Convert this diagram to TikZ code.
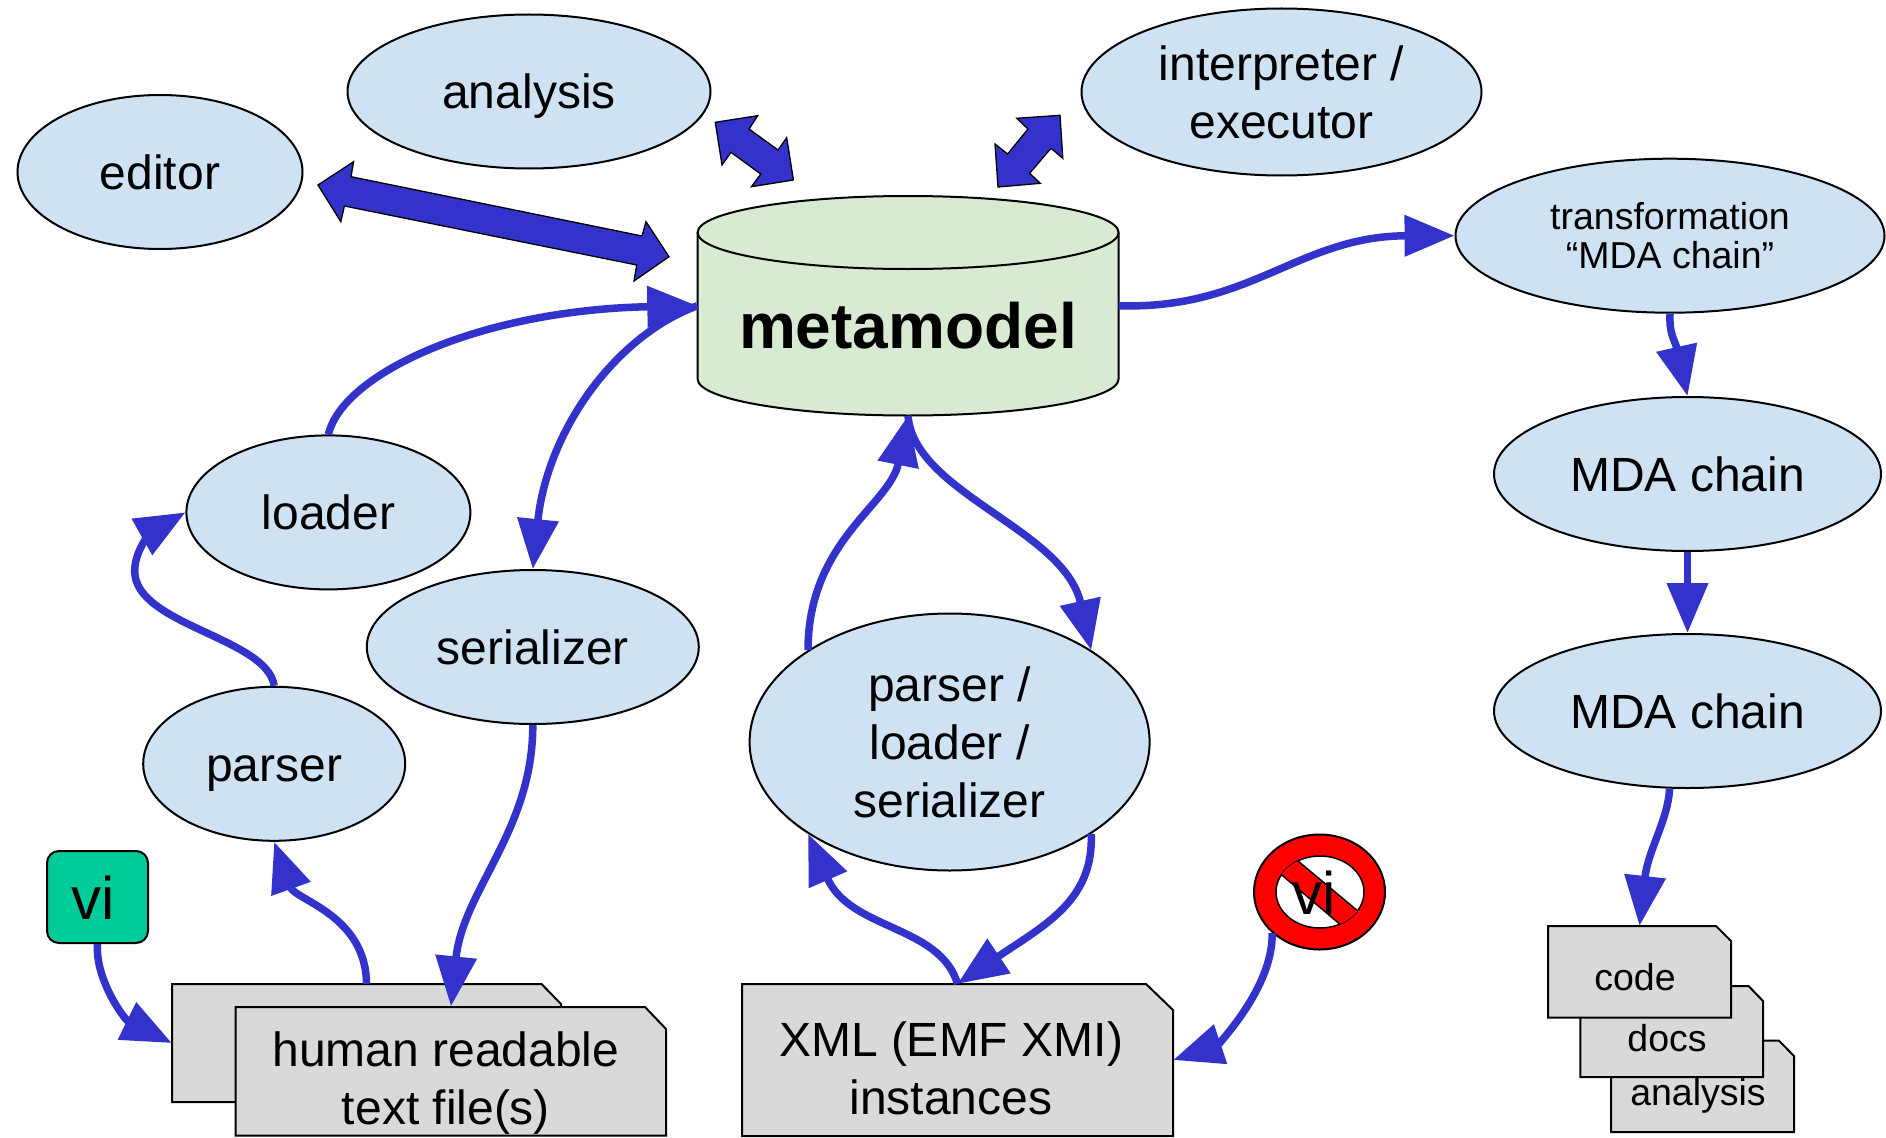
\documentclass[tikz,border=0pt]{standalone}
\usepackage{fontspec}
\setmainfont{Liberation Sans}
\usetikzlibrary{arrows.meta,shapes.geometric}
\definecolor{flowblue}{HTML}{3333CC}
\definecolor{bubble}{HTML}{CFE2F3}
\definecolor{cylfill}{HTML}{D9EAD3}
\definecolor{docfill}{HTML}{D9D9D9}
\definecolor{vigreen}{HTML}{00CC99}
\newcommand{\bigtxt}{\fontsize{48}{58}\selectfont}
\newcommand{\smalltxt}{\fontsize{37.5}{39}\selectfont}
\tikzset{
  bubblenode/.style={ellipse,draw=black,fill=bubble,line width=2pt,inner sep=0pt,align=center,font=\bigtxt},
  flow/.style={draw=flowblue,line width=7.5pt,-{Triangle[length=50pt,width=40pt]}},
  fatarrow/.style={draw=black,fill=flowblue,line width=1.3pt,line join=miter},
  docshape/.style={draw=black,fill=docfill,line width=2pt,line join=miter},
  docanchor/.style={rectangle,inner sep=0pt},
  doctext/.style={align=center,inner sep=0pt,font=\bigtxt},
  docsmall/.style={align=center,inner sep=0pt,font=\smalltxt},
  cylshape/.style={draw=black,fill=cylfill,line width=2pt},
}
\begin{document}
\begin{tikzpicture}[x=1pt,y=-1pt]
\useasboundingbox (0,0) rectangle (1886,1137);
\fill[white] (0,0) rectangle (1886,1137);

% bubbles
\node[bubblenode,minimum width=285pt,minimum height=154pt] (editor) at (160,172) {editor};
\node[bubblenode,minimum width=363pt,minimum height=154pt] (analysis) at (529,91.5) {\rule{0pt}{35pt}\smash{analysis}};
\node[bubblenode,minimum width=400pt,minimum height=167pt] (interp) at (1281.5,92) {interpreter /\\executor};
\node[bubblenode,minimum width=429pt,minimum height=154pt,font=\smalltxt] (transf) at (1670,235.7) {transformation\\“MDA chain”};
\node[bubblenode,minimum width=387pt,minimum height=154pt] (mdaA) at (1687.5,474) {MDA chain};
\node[bubblenode,minimum width=387pt,minimum height=154pt] (mdaB) at (1687.5,711) {MDA chain};
\node[bubblenode,minimum width=284pt,minimum height=154pt] (loader) at (328.4,512.4) {loader};
\node[bubblenode,minimum width=332pt,minimum height=154pt] (serial) at (532.8,647) {serializer};
\node[bubblenode,minimum width=262pt,minimum height=154pt] (parser) at (274.2,763.8) {\rule{0pt}{35pt}\smash{parser}};
\node[bubblenode,minimum width=400pt,minimum height=257pt] (pls) at (949.6,742) {parser /\\loader /\\serializer};

% metamodel cylinder
\draw[cylshape] (697.6,232.5) -- (697.6,379)
  .. controls (697.6,399.2) and (791.7,415.5) .. (908,415.5)
  .. controls (1024.3,415.5) and (1118.6,399.2) .. (1118.6,379)
  -- (1118.6,232.5)
  .. controls (1118.6,212.3) and (1024.3,196) .. (908,196)
  .. controls (791.7,196) and (697.6,212.3) .. (697.6,232.5) -- cycle;
\draw[cylshape,fill=none] (697.6,232.5)
  .. controls (697.6,252.7) and (791.7,269) .. (908,269)
  .. controls (1024.3,269) and (1118.6,252.7) .. (1118.6,232.5);
\node[rectangle,inner sep=0pt,minimum width=421pt,minimum height=219.5pt] (meta) at (908,305.75) {};
\node[inner sep=0pt,font=\fontsize{64}{70}\selectfont\bfseries] (metatext) at (908,326) {metamodel};

% documents
\draw[docshape] (172,984) -- (541.5,984) -- (561,1004) -- (561,1102) -- (172,1102) -- cycle;
\node[docanchor,minimum width=389pt,minimum height=118pt] (fileA) at (366.5,1043) {};
\draw[docshape] (235.7,1007) -- (645,1007) -- (666,1029) -- (666,1135.7) -- (235.7,1135.7) -- cycle;
\node[docanchor,minimum width=430pt,minimum height=129pt] (fileB) at (451,1071) {};
\node[doctext] (fileBtext) at (446,1083) {human readable\\text file(s)};

\draw[docshape] (742,984) -- (1146,984) -- (1173,1010) -- (1173,1136) -- (742,1136) -- cycle;
\node[docanchor,minimum width=431pt,minimum height=152pt] (xml) at (957.5,1060) {};
\node[doctext] (xmltext) at (951,1068) {XML (EMF XMI)\\instances};

\draw[docshape] (1611,1040.7) -- (1779,1040.7) -- (1794,1056) -- (1794,1132) -- (1611,1132) -- cycle;
\node[docsmall] (analysisdoc) at (1698,1096) {analysis};
\draw[docshape] (1580.4,986) -- (1748.5,986) -- (1763,1001) -- (1763,1077) -- (1580.4,1077) -- cycle;
\node[docsmall] (docsdoc) at (1667,1038) {docs};
\draw[docshape] (1548,926) -- (1716,926) -- (1731,941) -- (1731,1017.7) -- (1548,1017.7) -- cycle;
\node[docanchor,minimum width=183pt,minimum height=92pt] (code) at (1639.5,972) {};
\node[docsmall] (codedoc) at (1635,977) {code};

% vi box
\node[draw=black,fill=vigreen,line width=2pt,rounded corners=12pt,minimum width=101pt,minimum height=92pt,inner sep=0pt] (vi) at (97.5,897) {};
\node[inner sep=0pt,font=\fontsize{60}{62}\selectfont] (vitext) at (93,898) {vi};

% no-vi sign
\node[ellipse,draw=black,fill=red,line width=2pt,minimum width=131pt,minimum height=115pt,inner sep=0pt] (novi) at (1319.5,892) {};
\node[ellipse,draw=black,fill=white,line width=1.5pt,minimum width=88pt,minimum height=72pt,inner sep=0pt] (noviin) at (1320,892) {};
\begin{scope}
  \clip (1320,892) ellipse [x radius=44,y radius=36];
  \draw[draw=black,fill=red,line width=1.5pt] (1239.4,812) -- (1415.2,959) -- (1398.6,974) -- (1222.8,825) -- cycle;
\end{scope}
\node[inner sep=0pt,font=\fontsize{60}{62}\selectfont] (novitext) at (1314,892.5) {vi};

% curved connectors
\draw[flow] (loader.north) .. controls (343,373) and (481,310) .. (meta.west);
\draw[flow] (meta.west) .. controls (613,337) and (547,433) .. (serial.north);
\draw[flow] (parser.north) .. controls (267,637.5) and (134.7,625) .. (134.7,571) .. controls (134.7,547) and (156,529) .. (loader.west);
\draw[flow] (serial.south) .. controls (533,830) and (463,890) .. (fileB.north);
\draw[flow] (fileA.north) .. controls (366,915) and (295,900) .. (parser.south);
\draw[flow] (vi.south) .. controls (95,980) and (125,1020) .. (fileA.west);
\draw[flow] (meta.east) .. controls (1251,310) and (1299,236) .. (transf.west);
\draw[flow] (transf.south) .. controls (1669,335) and (1675,340) .. (mdaA.north);
\draw[flow] (mdaA.south) -- (mdaB.north);
\draw[flow] (mdaB.257) .. controls (1668,820) and (1648,850) .. (code.north);
\draw[flow] (pls.147) .. controls (808,541) and (890,505) .. (meta.south);
\draw[flow] (meta.south) .. controls (914,493) and (1064,529) .. (pls.33);
\draw[flow] (pls.327) .. controls (1094,900) and (1045,925) .. (xml.north);
\draw[flow] (xml.north) .. controls (940,925) and (850,930) .. (pls.213);
\draw[flow] (novi.221) .. controls (1273,990) and (1215,1046) .. (xml.east);

% wide double arrows
\draw[fatarrow] (318,185) -- (353.6,161.7) -- (351,176.7) -- (642,236) -- (646,221.7) -- (669,256.7) -- (634,281) -- (636.7,265) -- (344.4,206) -- (340.8,221.7) -- cycle;
\draw[fatarrow] (715.3,122.3) -- (757.7,115.7) -- (749,129) -- (778,150) -- (786.7,137.7) -- (793.4,180) -- (751.5,186.7) -- (760.7,174) -- (731,152.3) -- (722,165) -- cycle;
\draw[fatarrow] (1060,115.3) -- (1016.8,118.3) -- (1028,129) -- (1007.6,154) -- (995,144) -- (998,187) -- (1040.3,183.3) -- (1029.6,173.3) -- (1051,148.3) -- (1062.8,158.3) -- cycle;
\end{tikzpicture}
\end{document}
